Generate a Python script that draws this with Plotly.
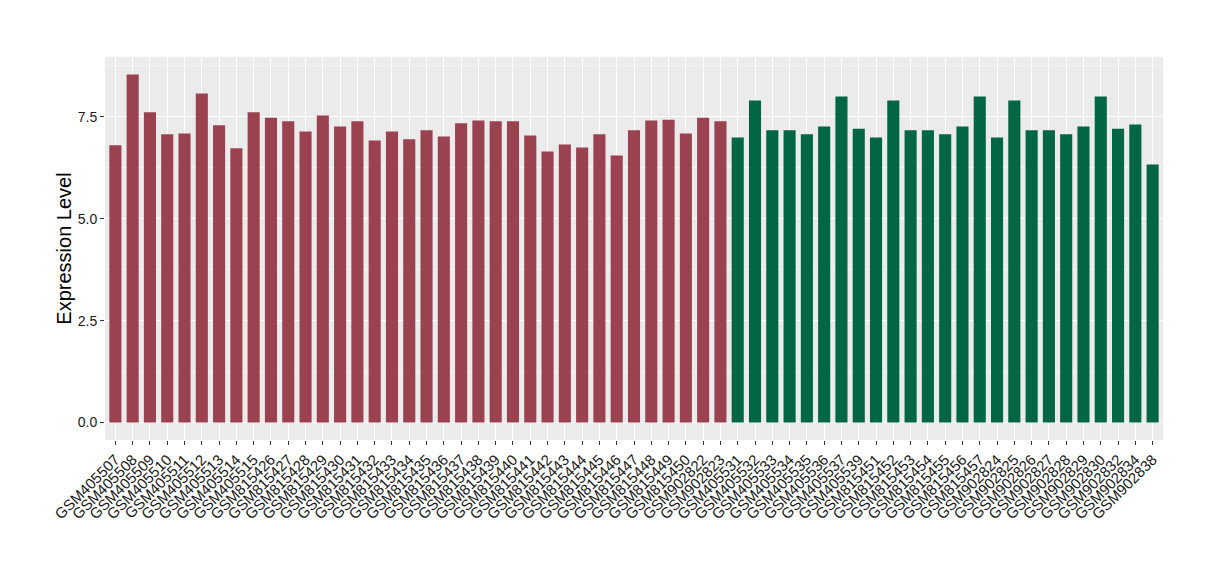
import plotly.graph_objects as go

group_a_samples = [
    "GSM405507", "GSM405508", "GSM405509", "GSM405510", "GSM405511", "GSM405512",
    "GSM405513", "GSM405514", "GSM405515", "GSM815426", "GSM815427", "GSM815428",
    "GSM815429", "GSM815430", "GSM815431", "GSM815432", "GSM815433", "GSM815434",
    "GSM815435", "GSM815436", "GSM815437", "GSM815438", "GSM815439", "GSM815440",
    "GSM815441", "GSM815442", "GSM815443", "GSM815444", "GSM815445", "GSM815446",
    "GSM815447", "GSM815448", "GSM815449", "GSM815450", "GSM902822", "GSM902823",
]
group_a_values = [
    6.80, 8.54, 7.61, 7.07, 7.09, 8.07, 7.29, 6.73, 7.61, 7.48, 7.39, 7.14,
    7.53, 7.26, 7.39, 6.92, 7.14, 6.95, 7.17, 7.02, 7.34, 7.41, 7.39, 7.39,
    7.04, 6.65, 6.82, 6.75, 7.07, 6.55, 7.17, 7.41, 7.43, 7.09, 7.48, 7.39,
]

group_b_samples = [
    "GSM405531", "GSM405532", "GSM405533", "GSM405534", "GSM405535", "GSM405536",
    "GSM405537", "GSM405539", "GSM815451", "GSM815452", "GSM815453", "GSM815454",
    "GSM815455", "GSM815456", "GSM815457", "GSM902824", "GSM902825", "GSM902826",
    "GSM902827", "GSM902828", "GSM902829", "GSM902830", "GSM902832", "GSM902834",
    "GSM902838",
]
group_b_values = [
    6.99, 7.90, 7.17, 7.17, 7.07, 7.26, 8.00, 7.21, 6.99, 7.90, 7.17, 7.17,
    7.07, 7.26, 8.00, 6.99, 7.90, 7.17, 7.17, 7.07, 7.26, 8.00, 7.21, 7.31,
    6.33,
]

y_ticks = [0, 2.5, 5, 7.5]
y_tick_text = ["0.0", "2.5", "5.0", "7.5"]

RED = "#9B4251"
GREEN = "#006644"
all_samples = group_a_samples + group_b_samples

fig = go.Figure()

fig.add_trace(go.Bar(
    x=group_a_samples,
    y=group_a_values,
    marker=dict(color=RED, line=dict(width=0)),
    width=0.7,
    showlegend=False,
))

fig.add_trace(go.Bar(
    x=group_b_samples,
    y=group_b_values,
    marker=dict(color=GREEN, line=dict(width=0)),
    width=0.7,
    showlegend=False,
))

# page body has an 8px margin, so the figure is shrunk and shifted to match
fig.update_layout(
    width=1212,
    height=572,
    margin=dict(l=97, r=57, t=49, b=140),
    paper_bgcolor="white",
    plot_bgcolor="#EBEBEB",
    font=dict(family="Liberation Sans, Arial, sans-serif", size=14, color="#1a1a1a"),
    xaxis=dict(
        type="category",
        categoryorder="array",
        categoryarray=all_samples,
        range=[-0.6, len(all_samples) - 0.4],
        tickmode="array",
        tickvals=all_samples,
        ticktext=all_samples,
        tickangle=-45,
        showgrid=True,
        gridcolor="white",
        gridwidth=1.2,
        ticks="outside",
        ticklen=4,
        tickcolor="#333333",
        tickfont=dict(size=15, color="#1a1a1a"),
        showline=False,
        zeroline=False,
    ),
    yaxis=dict(
        title=dict(text="Expression Level", font=dict(size=20, color="black"), standoff=0),
        range=[-0.427, 8.967],
        tickvals=y_ticks,
        ticktext=y_tick_text,
        showgrid=True,
        gridcolor="white",
        gridwidth=1.2,
        minor=dict(dtick=1.25, tick0=0, showgrid=True, gridcolor="#F5F5F5", gridwidth=0.6),
        ticks="outside",
        ticklen=4,
        tickcolor="#333333",
        tickfont=dict(size=14, color="#1a1a1a"),
        showline=False,
        zeroline=False,
    ),
)

fig.write_html("out.html")
